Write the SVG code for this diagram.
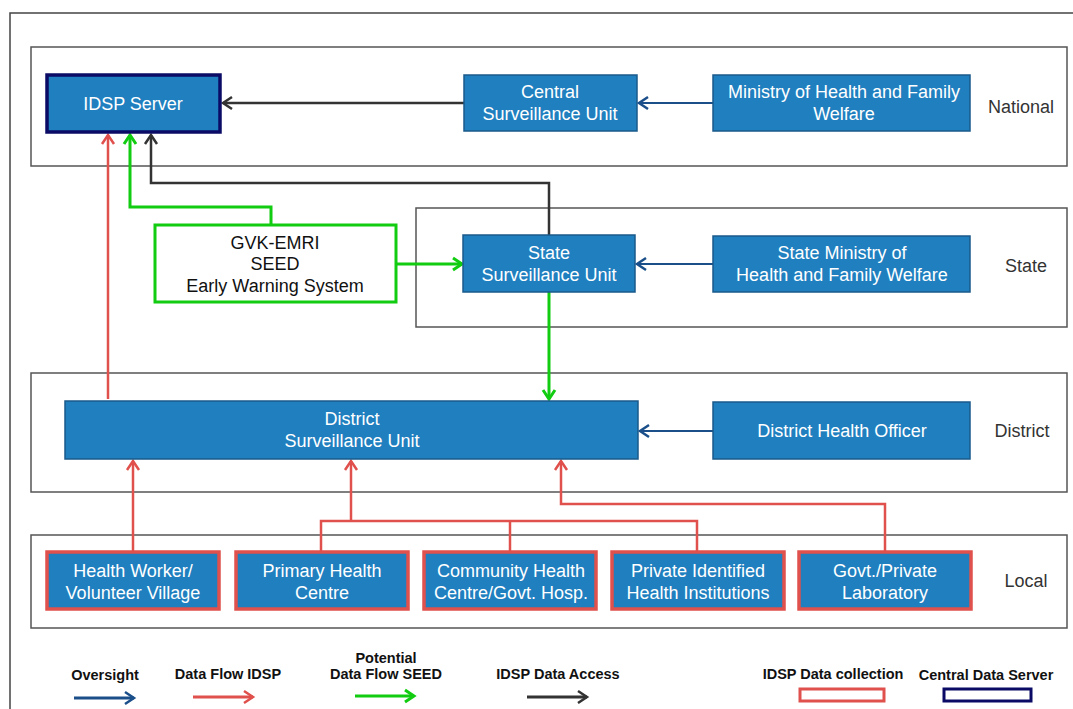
<svg xmlns="http://www.w3.org/2000/svg" width="1073" height="709" viewBox="0 0 1073 709">
<style>
.band{fill:none;stroke:#555;stroke-width:1.5}
.node{fill:#1f7fbf;stroke:#1a5a8a;stroke-width:1.5}
.local{fill:#1f7fbf;stroke:#e0504c;stroke-width:3.5}
.srv{fill:#1f7fbf;stroke:#0b0b66;stroke-width:3.5}
.nt{font-family:"Liberation Sans",Arial,sans-serif;font-size:18px;fill:#fff;text-anchor:middle}
.lvl{font-family:"Liberation Sans",Arial,sans-serif;font-size:18px;fill:#333;text-anchor:middle}
.leg{font-family:"Liberation Sans",Arial,sans-serif;font-size:14.5px;font-weight:bold;fill:#111;text-anchor:middle}
.ov{fill:none;stroke:#1a4f8a;stroke-width:2;marker-end:url(#mOv)}
.df{fill:none;stroke:#e0504c;stroke-width:2.5;marker-end:url(#mDf)}
.dfl{fill:none;stroke:#e0504c;stroke-width:2.5}
.sd{fill:none;stroke:#11cc11;stroke-width:3;marker-end:url(#mSd)}
.ac{fill:none;stroke:#333;stroke-width:2.5;marker-end:url(#mAc)}
</style>
<defs>
<marker id="mOv" viewBox="0 0 10 10" refX="10" refY="5" markerWidth="10" markerHeight="10" markerUnits="userSpaceOnUse" orient="auto" overflow="visible"><path d="M1,-1 L10,5 L1,11" fill="none" stroke="#1a4f8a" stroke-width="2.5"/></marker>
<marker id="mDf" viewBox="0 0 10 10" refX="10" refY="5" markerWidth="10" markerHeight="10" markerUnits="userSpaceOnUse" orient="auto" overflow="visible"><path d="M1,-1 L10,5 L1,11" fill="none" stroke="#e0504c" stroke-width="2.5"/></marker>
<marker id="mSd" viewBox="0 0 10 10" refX="10" refY="5" markerWidth="10" markerHeight="10" markerUnits="userSpaceOnUse" orient="auto" overflow="visible"><path d="M1,-1 L10,5 L1,11" fill="none" stroke="#11cc11" stroke-width="3"/></marker>
<marker id="mAc" viewBox="0 0 10 10" refX="10" refY="5" markerWidth="10" markerHeight="10" markerUnits="userSpaceOnUse" orient="auto" overflow="visible"><path d="M1,-1 L10,5 L1,11" fill="none" stroke="#333" stroke-width="2.5"/></marker>
</defs>
<rect width="1073" height="709" fill="#fff"/>
<path d="M10,709 L10,13 L1073,13" fill="none" stroke="#444" stroke-width="1.5"/>
<g id="bands">
<rect class="band" x="31" y="47" width="1036" height="119"/>
<rect class="band" x="416" y="208" width="651" height="119"/>
<rect class="band" x="31" y="373" width="1036" height="119"/>
<rect class="band" x="31" y="535" width="1036" height="93"/>
<text class="lvl" x="1021" y="113">National</text>
<text class="lvl" x="1026" y="272">State</text>
<text class="lvl" x="1022" y="437">District</text>
<text class="lvl" x="1026" y="587">Local</text>
</g>
<g id="connectors">
<path class="ac" d="M464,103 L223,103"/>
<path class="ov" d="M713,103 L639,103"/>
<path class="ac" d="M549,235 L549,183 L151,183 L151,135"/>
<path class="sd" d="M271,225 L271,207 L130,207 L130,135"/>
<path class="df" d="M108,399 L108,135"/>
<path class="sd" d="M396,264 L462,264"/>
<path class="ov" d="M713,264 L637,264"/>
<path class="sd" d="M549,292 L549,399"/>
<path class="ov" d="M713,431 L640,431"/>
<path class="df" d="M133,551 L133,461"/>
<path class="dfl" d="M321,551 L321,521 L697,521 L697,551"/>
<path class="dfl" d="M510,551 L510,521"/>
<path class="df" d="M351,521 L351,461"/>
<path class="df" d="M885,551 L885,504 L561,504 L561,461"/>
</g>
<g id="idsp-server"><rect class="srv" x="47" y="75" width="173" height="57"/><text class="nt" x="133" y="110">IDSP Server</text></g>
<g id="csu"><rect class="node" x="464" y="75" width="173" height="56"/><text class="nt" x="550" y="98">Central</text><text class="nt" x="550" y="120">Surveillance Unit</text></g>
<g id="mohfw"><rect class="node" x="713" y="75" width="257" height="56"/><text class="nt" x="844" y="98">Ministry of Health and Family</text><text class="nt" x="844" y="120">Welfare</text></g>
<g id="gvk"><rect x="155" y="225" width="241" height="77" fill="#fff" stroke="#11cc11" stroke-width="3"/><text class="nt" style="fill:#111" x="275" y="249">GVK-EMRI</text><text class="nt" style="fill:#111" x="275" y="270">SEED</text><text class="nt" style="fill:#111" x="275" y="292">Early Warning System</text></g>
<g id="ssu"><rect class="node" x="463" y="235" width="172" height="57"/><text class="nt" x="549" y="259">State</text><text class="nt" x="549" y="281">Surveillance Unit</text></g>
<g id="smohfw"><rect class="node" x="713" y="236" width="257" height="56"/><text class="nt" x="842" y="259">State Ministry of</text><text class="nt" x="842" y="281">Health and Family Welfare</text></g>
<g id="dsu"><rect class="node" x="65" y="401" width="573" height="58"/><text class="nt" x="352" y="425">District</text><text class="nt" x="352" y="447">Surveillance Unit</text></g>
<g id="dho"><rect class="node" x="713" y="402" width="257" height="57"/><text class="nt" x="842" y="437">District Health Officer</text></g>
<g id="hw"><rect class="local" x="47" y="552" width="172" height="57"/><text class="nt" x="133" y="577">Health Worker/</text><text class="nt" x="133" y="599">Volunteer Village</text></g>
<g id="phc"><rect class="local" x="236" y="552" width="172" height="57"/><text class="nt" x="322" y="577">Primary Health</text><text class="nt" x="322" y="599">Centre</text></g>
<g id="chc"><rect class="local" x="424" y="552" width="172" height="57"/><text class="nt" x="511" y="577">Community Health</text><text class="nt" x="511" y="599">Centre/Govt.  Hosp.</text></g>
<g id="phi"><rect class="local" x="612" y="552" width="172" height="57"/><text class="nt" x="698" y="577">Private Identified</text><text class="nt" x="698" y="599">Health Institutions</text></g>
<g id="lab"><rect class="local" x="799" y="552" width="172" height="57"/><text class="nt" x="885" y="577">Govt./Private</text><text class="nt" x="885" y="599">Laboratory</text></g>
<g id="legend">
<text class="leg" x="105" y="680">Oversight</text>
<path class="ov" d="M74,698 L134,698" style="stroke-width:3"/>
<text class="leg" x="228" y="679">Data Flow IDSP</text>
<path class="df" d="M193,697 L253,697" style="stroke-width:3"/>
<text class="leg" x="386" y="663">Potential</text>
<text class="leg" x="386" y="679">Data Flow SEED</text>
<path class="sd" d="M355,696 L414,696"/>
<text class="leg" x="558" y="679">IDSP Data Access</text>
<path class="ac" d="M527,697 L587,697" style="stroke-width:3"/>
<text class="leg" x="833" y="679">IDSP Data collection</text>
<rect x="800" y="689" width="84" height="12" fill="#fff" stroke="#e0504c" stroke-width="3"/>
<text class="leg" x="986" y="680">Central Data Server</text>
<rect x="944" y="689" width="87" height="12" fill="#fff" stroke="#0b0b66" stroke-width="3"/>
</g>
</svg>
